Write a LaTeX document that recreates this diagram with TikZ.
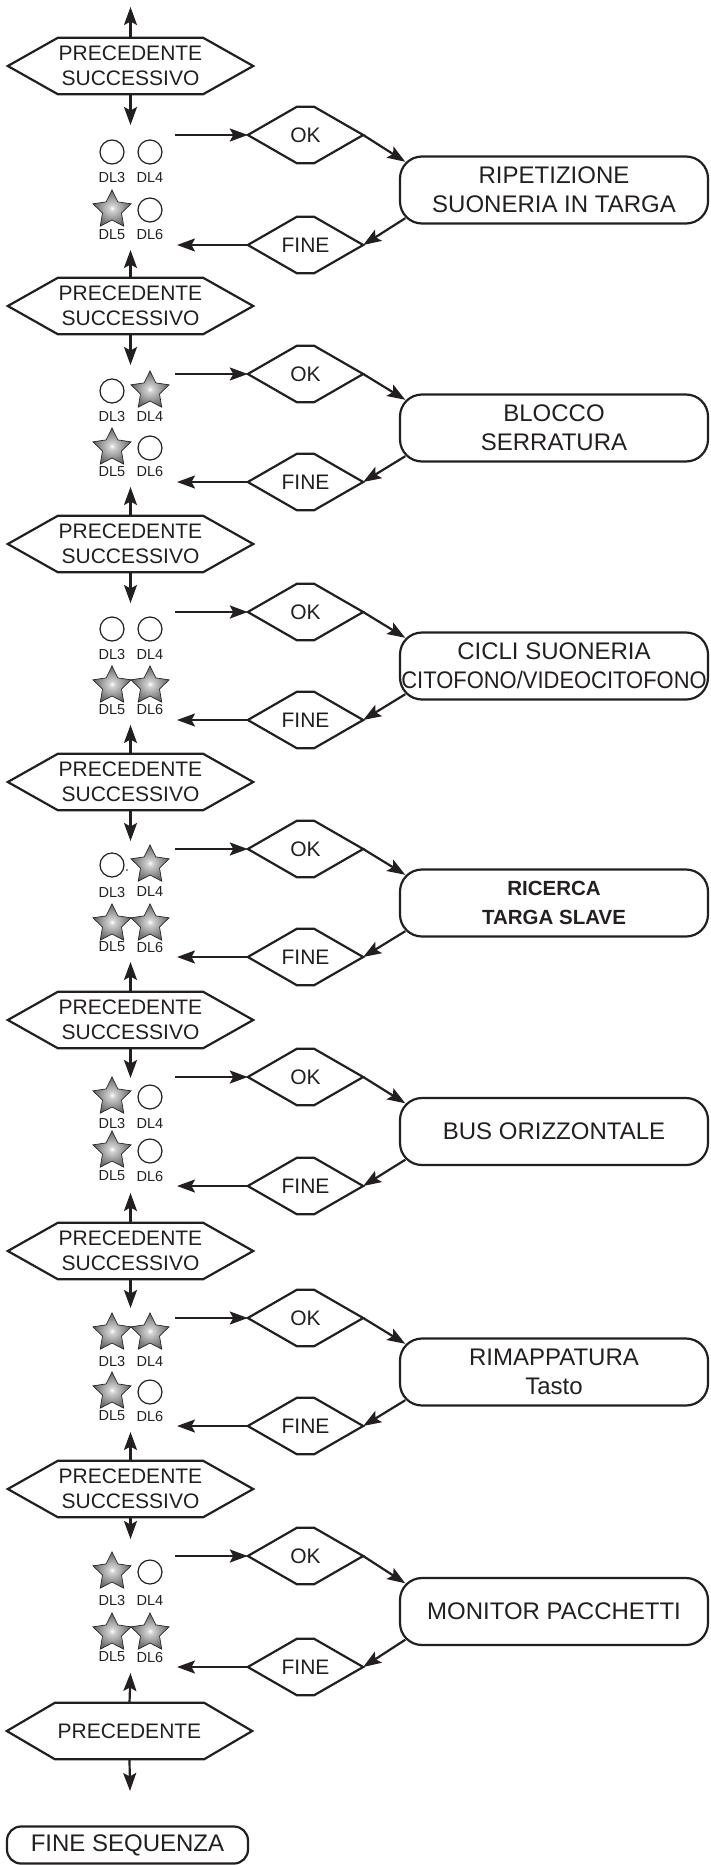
\documentclass[tikz,border=0pt]{standalone}
\usepackage{fontspec}
\setmainfont{Liberation Sans}
\usetikzlibrary{arrows.meta,shapes.geometric,calc}
\definecolor{ink}{HTML}{231F20}
\pgfdeclareradialshading{ledshade}{\pgfpoint{0bp}{0bp}}{color(0bp)=(white); color(4bp)=(white!82!black); color(22bp)=(black!55); color(38bp)=(black!78); color(50bp)=(black!85)}
\tikzset{
  outl/.style={draw=ink, line width=2.2pt, line join=miter},
  arr/.style={draw=ink, line width=2.2pt, -{Stealth[length=18pt,width=13pt,inset=3.5pt]}},
  hexn/.style={minimum width=245pt, minimum height=56pt, inner sep=0pt, align=center, text=ink, font=\fontsize{21}{25}\selectfont},
  sh/.style={minimum width=115pt, minimum height=56pt, inner sep=0pt, text=ink, font=\fontsize{21}{25}\selectfont},
  bx/.style={outl, rounded corners=22pt, minimum width=308pt, minimum height=67pt, inner sep=0pt, align=center, text=ink, font=\fontsize{24}{29}\selectfont},
  dl/.style={inner sep=0pt, text=ink, font=\fontsize{14.5}{16}\selectfont},
  ledO/.style={circle, draw=ink, line width=1.2pt, minimum size=24pt, inner sep=0pt},
  ledS/.style={star, star points=5, star point ratio=2.0, minimum size=40pt, inner sep=0pt, draw=black!85, line width=0.7pt, shading=ledshade},
}
\newcommand\bb{\bfseries\fontsize{20.5}{23}\selectfont}
\newcommand\hexp[2]{\draw[outl] (#1.west) -- ([xshift=#2]#1.north west) -- ([xshift=-#2]#1.north east) -- (#1.east) -- ([xshift=-#2]#1.south east) -- ([xshift=#2]#1.south west) -- cycle;}
% offsets: tip, ok, row, label (from upper hexagon); fine, row, label, up-tip (from lower hexagon)
\newcommand\setoff[8]{\def\otip{#1}\def\ook{#2}\def\orow{#3}\def\olab{#4}\def\ofin{#5}\def\orowb{#6}\def\olabb{#7}\def\oup{#8}}
\newcommand\blk[9]{%
  \coordinate (dn#1) at (130.5,#2+\otip);
  \draw[arr] (h#1.south) -- (dn#1);
  \node[#4] (a#1) at (112,#2+\orow) {};
  \node[#5] (b#1) at (150,#2+\orow) {};
  \node[dl] (la#1) at (112,#2+\olab) {DL3};
  \node[dl] (lb#1) at (150,#2+\olab) {DL4};
  \node[#6] (c#1) at (112,#3-\orowb) {};
  \node[#7] (d#1) at (150,#3-\orowb) {};
  \node[dl] (lc#1) at (112,#3-\olabb) {DL5};
  \node[dl] (ld#1) at (150,#3-\olabb) {DL6};
  \coordinate (up#1) at (130.5,#3-\oup);
  \draw[arr] (#9.north) -- (up#1);
  \node[sh] (ok#1) at (305.5,#2+\ook) {OK}; \hexp{ok#1}{49pt}
  \node[sh] (fi#1) at (305.5,#3-\ofin) {FINE}; \hexp{fi#1}{49pt}
  \coordinate (of#1) at (175,#2+\ook);
  \draw[arr] (of#1) -- (ok#1.west);
  \coordinate (ft#1) at (177,#3-\ofin);
  \draw[arr] (fi#1.west) -- (ft#1);
  \node[bx] (bx#1) at (554,{(#2+\ook+#3-\ofin)/2}) {#8};
  \coordinate (bi#1) at ($(bx#1.north west)+(6.4,6.4)$);
  \coordinate (bo#1) at ($(bx#1.south west)+(6.4,-6.4)$);
  \draw[arr] (ok#1.east) -- (bi#1);
  \draw[arr] (bo#1) -- (fi#1.east);
}
\begin{document}
\begin{tikzpicture}[x=1pt,y=-1pt]
\useasboundingbox (0,0) rectangle (710,1865);
% hexagons
\node[hexn] (h0) at (130.5,66) {PRECEDENTE\\SUCCESSIVO}; \hexp{h0}{50pt}
\node[hexn] (h1) at (130.5,306) {PRECEDENTE\\SUCCESSIVO}; \hexp{h1}{50pt}
\node[hexn] (h2) at (130.5,544) {PRECEDENTE\\SUCCESSIVO}; \hexp{h2}{50pt}
\node[hexn] (h3) at (130.5,782) {PRECEDENTE\\SUCCESSIVO}; \hexp{h3}{50pt}
\node[hexn] (h4) at (130.5,1020) {PRECEDENTE\\SUCCESSIVO}; \hexp{h4}{50pt}
\node[hexn] (h5) at (130.5,1251) {PRECEDENTE\\SUCCESSIVO}; \hexp{h5}{50pt}
\node[hexn] (h6) at (130.5,1489) {PRECEDENTE\\SUCCESSIVO}; \hexp{h6}{50pt}
\node[hexn] (h7) at (129.5,1731) {PRECEDENTE}; \hexp{h7}{48pt}
% top arrow
\coordinate (top) at (130.5,7);
\draw[arr] (h0.north) -- (top);
% blocks
\setoff{59}{69}{86}{112}{61}{96}{71}{56}
\blk{0}{66}{306}{ledO}{ledO}{ledS}{ledO}{RIPETIZIONE\\SUONERIA IN TARGA}{h1}
\setoff{59}{68}{85}{111}{62}{96}{72}{57}
\blk{1}{306}{544}{ledO}{ledS}{ledS}{ledO}{BLOCCO\\SERRATURA}{h2}
\blk{2}{544}{782}{ledO}{ledO}{ledS}{ledS}{CICLI SUONERIA\\\scalebox{0.915}[1]{CITOFONO/VIDEOCITOFONO}}{h3}
\setoff{59}{67}{83}{110}{63}{96}{73}{58}
\blk{3}{782}{1020}{ledO}{ledS}{ledS}{ledS}{\bb RICERCA\\\bb TARGA SLAVE}{h4}
\setoff{58}{57}{77}{103}{65}{100}{75}{58}
\blk{4}{1020}{1251}{ledS}{ledO}{ledS}{ledO}{BUS ORIZZONTALE}{h5}
\setoff{57}{67}{82}{110}{63}{97}{73}{57}
\blk{5}{1251}{1489}{ledS}{ledS}{ledS}{ledO}{RIMAPPATURA\\Tasto}{h6}
\setoff{50}{67}{83}{111}{64}{98}{74}{58}
\blk{6}{1489}{1731}{ledS}{ledO}{ledS}{ledS}{MONITOR PACCHETTI}{h7}
% small dot in block 3
\fill[ink] (127,870) circle (0.9pt);
% end
\coordinate (dn7) at (130,1791);
\draw[arr] (h7.south) -- (dn7);
\node[outl, rounded corners=14pt, minimum width=241pt, minimum height=37pt, inner sep=0pt, text=ink, font=\fontsize{24}{29}\selectfont] (fs) at (127.5,1845) {FINE SEQUENZA};
\end{tikzpicture}
\end{document}
